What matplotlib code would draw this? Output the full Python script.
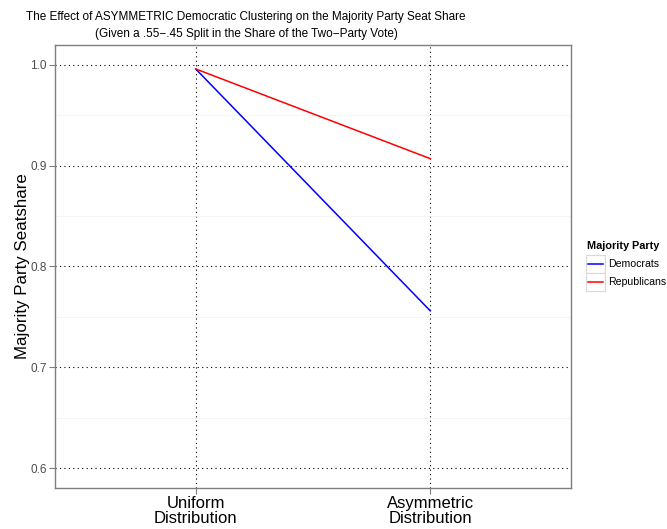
import matplotlib
matplotlib.use("Agg")
import matplotlib.pyplot as plt
from matplotlib.ticker import MultipleLocator
from matplotlib.patches import Rectangle
from matplotlib.lines import Line2D

plt.rcParams['font.family'] = ['Liberation Sans', 'DejaVu Sans']

# data
categories = ["Uniform\nDistribution", "Asymmetric\nDistribution"]
democrats = [0.996, 0.756]
republicans = [0.996, 0.907]
party_names = ['Democrats', 'Republicans']
party_colors = ['#0000ff', '#ff0000']

W, H = 667, 529
fig = plt.figure(figsize=(W / 100, H / 100), dpi=100)
ax = fig.add_axes([0.0825, 0.0775, 0.7735, 0.8375])

x = [1, 2]
for vals, col in zip([democrats, republicans], party_colors):
    ax.plot(x, vals, color=col, lw=1.1, zorder=3)

ax.set_xlim(0.4, 2.6)
ax.set_ylim(0.5802, 1.0198)
ax.set_xticks(x)
ax.set_xticklabels(categories, fontsize=12, linespacing=1.0)
ax.yaxis.set_minor_locator(MultipleLocator(0.05))
ax.set_yticks([0.6, 0.7, 0.8, 0.9, 1.0])
ax.set_yticklabels(['0.6', '0.7', '0.8', '0.9', '1.0'])
ax.tick_params(axis='y', which='minor', length=0)
ax.tick_params(axis='y', labelsize=8.5, labelcolor='#4d4d4d', color='#7f7f7f', length=4, pad=2)
ax.tick_params(axis='x', colors='#7f7f7f', labelcolor='black', length=4, pad=2)

# gridlines: black dotted major, faint minor
ax.grid(True, which='major', color='black', linestyle=(0, (1, 3)), lw=0.8)
ax.grid(True, which='minor', axis='y', color='#f2f2f2', linestyle='-', lw=0.5)
ax.set_axisbelow(True)
for s in ax.spines.values():
    s.set_color('#7f7f7f')
    s.set_linewidth(1.0)

ax.set_ylabel('Majority Party Seatshare', fontsize=12.2)
ax.yaxis.set_label_coords(-0.049, 0.5)

fig.text(0.369, 0.967, 'The Effect of ASYMMETRIC Democratic Clustering on the Majority Party Seat Share',
         ha='center', va='center', fontsize=8.5)
fig.text(0.369, 0.935, '(Given a .55\u2212.45 Split in the Share of the Two\u2212Party Vote)',
         ha='center', va='center', fontsize=8.5)

# legend drawn by hand in pixel units (ggplot style key boxes)
def px(xp, yp):
    return xp / W, 1 - yp / H

fig.text(*px(587, 246), 'Majority Party', fontsize=7.8, fontweight='bold', va='center', ha='left')
for i, (name, col) in enumerate(zip(party_names, party_colors)):
    top = 255 + i * 18
    x0, y0 = px(586, top + 18)
    fig.add_artist(Rectangle((x0, y0), 19 / W, 18 / H, transform=fig.transFigure,
                             facecolor='white', edgecolor='#d9d9d9', lw=0.8))
    lx0, ly = px(588, top + 9)
    lx1, _ = px(603, top + 9)
    fig.add_artist(Line2D([lx0, lx1], [ly, ly], transform=fig.transFigure, color=col, lw=1.1))
    fig.text(*px(608, top + 9), name, fontsize=7.6, va='center', ha='left')

fig.savefig('out.png', dpi=100)
